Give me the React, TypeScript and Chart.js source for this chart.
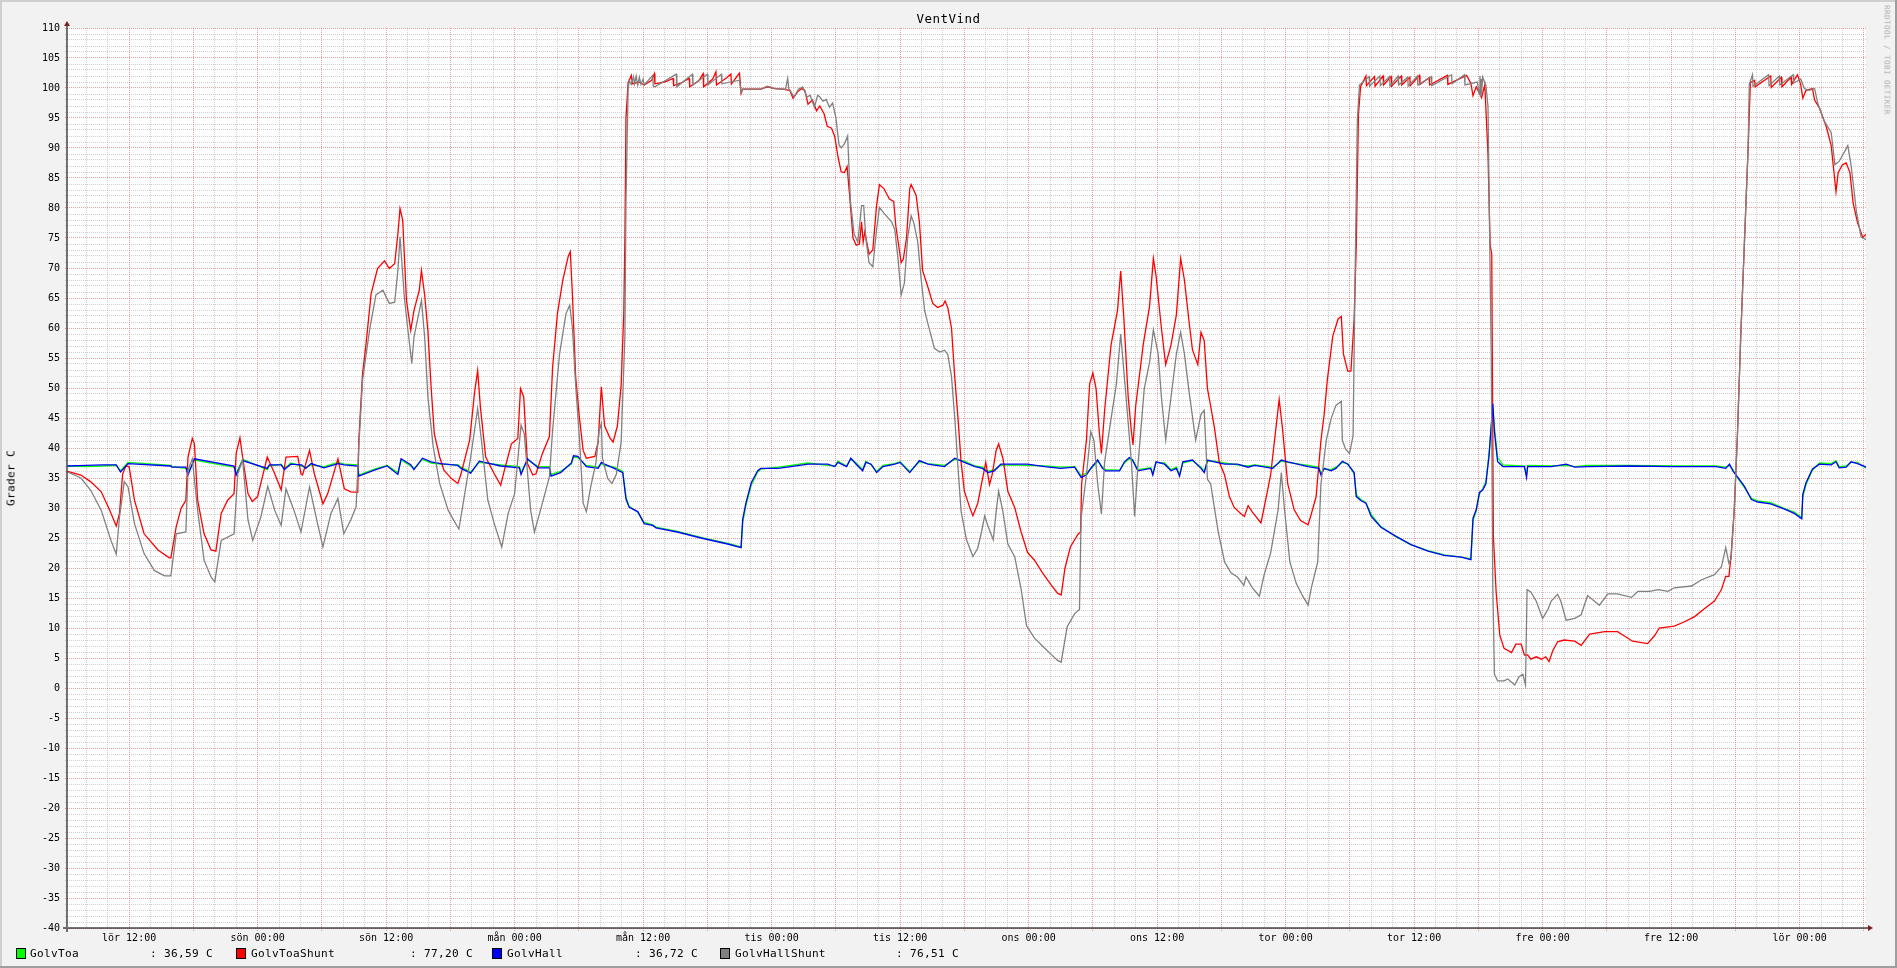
import React, { useEffect, useRef } from 'react';
import { Chart, registerables } from 'chart.js';

Chart.register(...registerables);

const W = 1897;
const H = 968;

// ---------- data (hours since lör ~06:00, degrees C) ----------
const chartTitle = 'VentVind';
const yAxisTitle = 'Grader C';
const watermark = 'RRDTOOL / TOBI OETIKER';

const xLabelHours = [6, 18, 30, 42, 54, 66, 78, 90, 102, 114, 126, 138, 150, 162];
const xLabels = ['lör 12:00', 'sön 00:00', 'sön 12:00', 'mån 00:00', 'mån 12:00', 'tis 00:00', 'tis 12:00', 'ons 00:00', 'ons 12:00', 'tor 00:00', 'tor 12:00', 'fre 00:00', 'fre 12:00', 'lör 00:00'];
const xGridHours = Array.from({ length: 84 }, (_, i) => (i + 1) * 2);
const yGridValues = Array.from({ length: 151 }, (_, i) => -40 + i);

const seriesNames = ['GolvToa', 'GolvToaShunt', 'GolvHall', 'GolvHallShunt'];
const seriesColors = ['#00ff00', '#ff0000', '#0000ff', '#808080'];
const legendValues = [': 36,59 C', ': 77,20 C', ': 36,72 C', ': 76,51 C'];

const golvHall: [number, number][] = [
  [0.25, 37.0], [2.0, 37.1], [3.5, 37.2], [4.8, 37.2], [5.2, 36.0], [5.9, 37.4], [9.9, 37.0], [10.0, 36.8], [11.3, 36.8], [11.5, 35.5],
  [12.1, 38.2], [15.8, 37.0], [16.0, 35.5], [16.6, 37.9], [18.9, 36.6], [19.1, 37.2], [20.2, 37.2], [20.5, 36.4], [21.1, 37.3], [22.1, 37.2],
  [22.5, 36.6], [23.0, 37.4], [24.2, 36.7], [25.5, 37.4], [26.1, 37.2], [27.35, 37.0], [27.45, 35.3], [28.9, 36.3], [30.1, 37.0], [31.1, 35.6],
  [31.4, 38.2], [32.3, 37.2], [32.6, 36.4], [33.4, 38.3], [34.2, 37.7], [35.1, 37.4], [36.7, 37.1], [37.0, 36.6], [37.9, 35.8], [38.7, 37.8],
  [40.7, 37.0], [42.45, 36.7], [42.6, 35.6], [43.2, 38.2], [44.2, 36.7], [45.25, 36.7], [45.4, 35.3], [46.3, 35.9], [47.3, 37.5], [47.5, 38.7],
  [47.9, 38.6], [48.7, 36.9], [49.8, 36.6], [50.1, 37.6], [50.4, 37.3], [51.3, 36.6], [52.1, 35.9], [52.4, 31.5], [52.7, 30.1], [53.5, 29.4],
  [54.1, 27.4], [54.9, 27.1], [55.2, 26.7], [57.2, 26.0], [59.4, 25.0], [61.9, 24.0], [63.15, 23.4], [63.3, 28.1], [63.6, 30.8], [64.1, 34.2],
  [64.7, 36.2], [65.0, 36.6], [66.6, 36.6], [67.8, 36.9], [69.4, 37.3], [71.25, 37.3], [71.9, 36.9], [72.2, 37.6], [73.0, 36.9], [73.4, 38.3],
  [73.9, 37.3], [74.5, 36.2], [74.8, 37.6], [75.3, 37.3], [75.8, 35.9], [76.4, 36.9], [77.5, 37.3], [78.0, 37.6], [78.9, 35.9], [79.8, 37.9],
  [80.6, 37.3], [82.15, 36.9], [83.1, 38.3], [84.0, 37.6], [85.0, 36.9], [85.7, 36.6], [86.2, 35.9], [86.8, 36.2], [87.4, 37.3], [88.4, 37.3],
  [89.9, 37.3], [91.5, 36.9], [93.0, 36.6], [94.3, 36.8], [94.9, 35.1], [95.4, 35.5], [95.8, 36.6], [96.45, 38.0], [96.9, 36.6], [97.2, 36.2],
  [98.5, 36.2], [98.95, 37.7], [99.4, 38.4], [99.7, 38.0], [100.2, 36.2], [101.4, 36.6], [101.6, 35.5], [101.9, 37.7], [102.7, 37.3], [103.3, 36.2],
  [103.8, 36.6], [104.1, 35.3], [104.4, 37.7], [105.3, 38.0], [106.1, 36.6], [106.4, 35.9], [106.7, 38.0], [107.35, 37.7], [108.3, 37.3], [109.5, 37.3],
  [110.5, 36.8], [111.1, 37.1], [112.8, 36.6], [113.6, 38.0], [114.2, 37.7], [116.1, 36.9], [117.1, 36.6], [117.3, 35.5], [117.6, 36.6], [118.25, 36.2],
  [118.7, 36.6], [119.3, 37.8], [119.8, 37.3], [120.4, 35.9], [120.6, 31.9], [121.05, 31.2], [121.5, 30.8], [122.0, 28.6], [122.9, 26.8], [124.2, 25.4],
  [125.7, 23.9], [127.3, 22.8], [128.8, 22.1], [130.4, 21.8], [131.3, 21.4], [131.5, 28.3], [131.8, 29.7], [132.1, 32.6], [132.4, 33.0], [132.7, 34.0],
  [133.0, 38.7], [133.35, 47.4], [133.5, 42.7], [133.8, 37.7], [134.3, 36.9], [136.3, 36.9], [136.5, 35.1], [136.6, 36.9], [138.8, 36.9], [140.2, 37.3],
  [141.0, 36.8], [142.2, 36.9], [146.0, 37.0], [150.3, 36.9], [154.2, 36.9], [155.1, 36.6], [155.45, 37.3], [155.8, 36.1], [156.2, 35.2], [156.85, 33.6],
  [157.5, 31.4], [158.1, 31.0], [159.3, 30.7], [160.6, 29.8], [161.5, 29.1], [162.2, 28.2], [162.3, 32.3], [162.6, 34.2], [163.2, 36.5], [163.85, 37.3],
  [164.95, 37.2], [165.4, 37.7], [165.7, 36.7], [166.35, 36.8], [166.8, 37.7], [167.4, 37.4], [168.25, 36.8],
];

const golvToa: [number, number][] = [
  [0.25, 37.0], [2.0, 36.9], [3.5, 37.0], [4.8, 37.1], [5.2, 36.2], [5.9, 37.6], [9.9, 37.1], [10.0, 36.9], [11.3, 36.6], [11.5, 35.9],
  [12.1, 38.0], [15.8, 36.8], [16.0, 35.8], [16.6, 38.1], [18.9, 36.4], [19.1, 37.0], [20.2, 37.3], [20.5, 36.6], [21.1, 37.5], [22.1, 37.0],
  [22.5, 36.8], [23.0, 37.2], [24.2, 36.9], [25.5, 37.6], [26.1, 37.3], [27.35, 37.2], [27.45, 35.5], [28.9, 36.5], [30.1, 37.1], [31.1, 35.9],
  [31.4, 38.0], [32.3, 37.0], [32.6, 36.6], [33.4, 38.1], [34.2, 37.5], [35.1, 37.3], [36.7, 37.2], [37.0, 36.8], [37.9, 36.0], [38.7, 37.6],
  [40.7, 37.2], [42.45, 36.9], [42.6, 35.9], [43.2, 38.0], [44.2, 36.9], [45.25, 36.9], [45.4, 35.6], [46.3, 36.1], [47.3, 37.3], [47.5, 38.5],
  [47.9, 38.4], [48.7, 37.1], [49.8, 36.8], [50.1, 37.4], [50.4, 37.1], [51.3, 36.8], [52.1, 36.1], [52.4, 31.8], [52.7, 30.3], [53.5, 29.3],
  [54.1, 27.6], [54.9, 27.2], [55.2, 26.8], [57.2, 26.1], [59.4, 25.1], [61.9, 24.1], [63.15, 23.5], [63.3, 27.6], [63.6, 30.4], [64.1, 33.8],
  [64.7, 36.0], [65.0, 36.5], [66.6, 36.8], [67.8, 37.1], [69.4, 37.5], [71.25, 37.1], [71.9, 37.0], [72.2, 37.8], [73.0, 37.0], [73.4, 38.1],
  [73.9, 37.5], [74.5, 36.4], [74.8, 37.8], [75.3, 37.2], [75.8, 36.1], [76.4, 37.1], [77.5, 37.4], [78.0, 37.7], [78.9, 36.1], [79.8, 37.7],
  [80.6, 37.4], [82.15, 37.1], [83.1, 38.1], [84.0, 37.8], [85.0, 37.0], [85.7, 36.8], [86.2, 36.1], [86.8, 36.4], [87.4, 37.1], [88.4, 37.2],
  [89.9, 37.1], [91.5, 37.0], [93.0, 36.8], [94.3, 36.9], [94.9, 35.4], [95.4, 35.8], [95.8, 36.5], [96.45, 37.8], [96.9, 36.8], [97.2, 36.4],
  [98.5, 36.3], [98.95, 37.5], [99.4, 38.2], [99.7, 38.1], [100.2, 36.4], [101.4, 36.7], [101.6, 35.8], [101.9, 37.6], [102.7, 37.5], [103.3, 36.4],
  [103.8, 36.8], [104.1, 35.6], [104.4, 37.5], [105.3, 37.9], [106.1, 36.8], [106.4, 36.1], [106.7, 37.8], [107.35, 37.8], [108.3, 37.5], [109.5, 37.2],
  [110.5, 37.0], [111.1, 37.2], [112.8, 36.8], [113.6, 37.8], [114.2, 37.6], [116.1, 37.1], [117.1, 36.8], [117.3, 35.8], [117.6, 36.5], [118.25, 36.4],
  [118.7, 36.8], [119.3, 37.6], [119.8, 37.4], [120.4, 35.7], [120.6, 32.2], [121.05, 31.4], [121.5, 30.9], [122.0, 28.9], [122.9, 26.9], [124.2, 25.3],
  [125.7, 23.9], [127.3, 22.9], [128.8, 22.2], [130.4, 21.8], [131.3, 21.5], [131.5, 27.9], [131.8, 29.5], [132.1, 32.3], [132.4, 33.2], [132.7, 34.4],
  [133.0, 39.2], [133.35, 46.8], [133.5, 43.5], [133.8, 38.4], [134.3, 37.2], [136.3, 37.0], [136.5, 35.5], [136.6, 37.1], [138.8, 37.0], [140.2, 37.1],
  [141.0, 36.9], [142.2, 37.1], [146.0, 37.1], [150.3, 37.0], [154.2, 37.0], [155.1, 36.8], [155.45, 37.1], [155.8, 36.3], [156.2, 35.0], [156.85, 33.4],
  [157.5, 31.6], [158.1, 31.2], [159.3, 30.9], [160.6, 29.9], [161.5, 29.3], [162.2, 28.4], [162.3, 31.8], [162.6, 33.9], [163.2, 36.3], [163.85, 37.5],
  [164.95, 37.4], [165.4, 37.9], [165.7, 36.9], [166.35, 37.0], [166.8, 37.6], [167.4, 37.6], [168.25, 36.6],
];

const golvToaShunt: [number, number][] = [
  [0.25, 36.1], [1.5, 35.5], [2.4, 34.4], [3.4, 32.7], [4.2, 29.6], [4.8, 27.0], [5.1, 29.1], [5.4, 35.7], [5.7, 37.0], [6.0, 36.9],
  [6.5, 31.3], [7.4, 25.7], [8.7, 23.0], [9.75, 21.7], [9.9, 21.7], [10.4, 26.9], [10.85, 29.9], [11.3, 31.3], [11.5, 38.5], [11.9, 41.6],
  [12.1, 40.7], [12.4, 31.3], [13.0, 25.7], [13.65, 23.0], [14.1, 22.8], [14.6, 29.1], [15.2, 31.3], [15.8, 32.4], [16.0, 39.1], [16.35, 41.7],
  [16.6, 38.5], [17.1, 32.4], [17.5, 31.1], [18.0, 31.9], [18.9, 38.5], [19.6, 35.7], [20.2, 33.0], [20.65, 38.5], [21.75, 38.6], [22.05, 35.7],
  [22.2, 35.5], [22.85, 39.6], [23.3, 35.7], [24.1, 30.7], [24.55, 32.4], [25.5, 38.2], [26.1, 33.2], [26.7, 32.7], [27.35, 32.6], [27.45, 41.3],
  [27.8, 52.4], [28.1, 56.9], [28.6, 65.7], [29.2, 69.9], [29.85, 71.2], [30.3, 69.9], [30.8, 70.7], [31.1, 75.7], [31.3, 79.9], [31.55, 78.0],
  [31.9, 64.6], [32.3, 59.6], [32.6, 62.9], [33.1, 66.3], [33.3, 69.6], [33.6, 65.5], [33.9, 59.6], [34.2, 50.2], [34.5, 42.4], [35.0, 38.5],
  [35.4, 36.3], [36.1, 34.9], [36.7, 34.1], [37.0, 35.7], [37.8, 41.3], [38.25, 49.1], [38.55, 52.9], [38.8, 46.9], [39.3, 38.5], [40.1, 35.7],
  [40.7, 33.8], [41.05, 36.3], [41.7, 40.7], [42.3, 41.6], [42.55, 49.9], [42.85, 48.5], [43.2, 37.4], [43.7, 35.5], [44.0, 35.7], [44.6, 39.1],
  [45.25, 41.9], [45.55, 53.5], [46.0, 62.4], [46.5, 68.0], [47.0, 71.9], [47.2, 72.7], [47.4, 65.5], [47.7, 51.9], [48.05, 45.1], [48.4, 39.6],
  [48.7, 38.3], [49.5, 38.6], [49.8, 41.0], [50.1, 50.2], [50.4, 43.7], [50.9, 41.7], [51.2, 41.0], [51.6, 43.7], [51.95, 50.5], [52.2, 62.8],
  [52.3, 75.0], [52.4, 95.1], [52.6, 100.9], [52.9, 102.1], [53.0, 100.7], [53.6, 101.0], [54.1, 100.5], [54.8, 101.3], [55.05, 102.4], [55.1, 100.7],
  [56.0, 101.0], [56.8, 101.6], [56.85, 100.4], [57.5, 100.8], [58.3, 101.6], [58.35, 100.2], [59.2, 101.2], [59.6, 102.4], [59.65, 100.2], [60.5, 101.5],
  [60.8, 102.7], [60.85, 100.5], [61.8, 101.7], [62.2, 102.3], [62.25, 100.7], [63.0, 102.5], [63.15, 99.1], [63.3, 99.8], [65.0, 99.8], [65.6, 100.2],
  [66.3, 99.9], [67.0, 99.8], [67.7, 99.6], [68.0, 98.3], [68.45, 99.4], [68.8, 99.9], [69.1, 99.6], [69.4, 97.3], [69.8, 98.0], [70.2, 96.2],
  [70.5, 97.0], [70.9, 95.7], [71.2, 93.6], [71.6, 93.3], [71.9, 91.9], [72.2, 88.5], [72.5, 86.0], [72.8, 85.9], [73.05, 86.9], [73.3, 81.8],
  [73.6, 75.0], [73.9, 73.8], [74.2, 74.0], [74.4, 77.7], [74.55, 74.3], [74.7, 76.0], [75.1, 72.3], [75.45, 73.0], [75.8, 80.4], [76.07, 83.9],
  [76.5, 83.2], [77.0, 81.5], [77.4, 81.1], [77.6, 77.0], [78.1, 70.9], [78.3, 71.5], [78.6, 75.0], [78.9, 83.2], [79.03, 83.9], [79.5, 82.1],
  [79.8, 77.7], [80.1, 69.6], [80.6, 66.8], [81.05, 64.1], [81.5, 63.4], [82.0, 63.8], [82.2, 64.5], [82.45, 63.4], [82.8, 60.0], [83.1, 51.9],
  [83.4, 45.1], [83.7, 37.6], [84.0, 32.8], [84.5, 30.1], [84.8, 28.7], [85.25, 30.8], [85.7, 34.9], [86.0, 37.6], [86.35, 33.9], [86.6, 35.6],
  [86.97, 39.6], [87.2, 40.7], [87.6, 38.3], [88.06, 32.8], [88.7, 30.1], [89.3, 26.0], [89.9, 22.6], [90.55, 21.3], [91.3, 19.2], [92.1, 17.2],
  [92.7, 15.8], [93.04, 15.5], [93.4, 20.0], [93.9, 23.5], [94.6, 25.6], [94.85, 26.0], [94.95, 34.0], [95.4, 41.3], [95.7, 50.7], [96.0, 52.5],
  [96.3, 49.9], [96.6, 42.7], [96.8, 39.1], [97.1, 46.3], [97.7, 57.2], [98.3, 62.9], [98.6, 69.5], [98.9, 61.5], [99.3, 48.5], [99.6, 42.7],
  [99.75, 40.5], [100.0, 47.0], [100.7, 57.2], [101.3, 63.7], [101.65, 71.6], [101.9, 68.7], [102.4, 60.0], [102.8, 53.9], [103.3, 57.2], [103.8, 62.2],
  [104.2, 71.6], [104.55, 68.0], [105.0, 60.8], [105.3, 56.4], [105.8, 53.9], [106.1, 59.3], [106.4, 57.9], [106.7, 49.9], [107.0, 47.0], [107.35, 43.4],
  [107.8, 37.7], [108.3, 35.5], [108.75, 31.9], [109.2, 30.1], [109.85, 29.0], [110.15, 28.6], [110.5, 30.4], [110.9, 29.3], [111.7, 27.5], [112.2, 31.9],
  [112.6, 35.5], [113.1, 43.4], [113.4, 48.1], [113.7, 43.4], [114.2, 34.0], [114.8, 29.7], [115.4, 27.9], [116.1, 27.2], [116.4, 29.0], [116.85, 31.9],
  [117.3, 41.3], [117.6, 45.6], [117.9, 51.4], [118.4, 58.6], [118.9, 61.5], [119.2, 61.9], [119.4, 55.7], [119.8, 52.8], [120.1, 52.8], [120.4, 61.5],
  [120.6, 73.8], [120.8, 95.5], [121.0, 100.2], [121.5, 102.0], [121.55, 100.4], [122.3, 101.9], [122.35, 100.3], [123.1, 102.0], [123.15, 100.5], [123.85, 101.9],
  [123.9, 100.3], [124.8, 102.0], [124.85, 100.5], [125.6, 101.8], [125.65, 100.4], [126.5, 102.1], [126.55, 100.6], [127.4, 101.7], [127.45, 100.5], [129.1, 102.1],
  [129.15, 100.6], [130.9, 102.1], [131.3, 100.8], [131.5, 98.7], [131.8, 100.2], [132.3, 98.4], [132.6, 100.5], [132.9, 89.0], [133.1, 73.8], [133.25, 72.3],
  [133.35, 41.3], [133.4, 25.4], [133.66, 16.0], [134.0, 8.8], [134.4, 6.6], [135.1, 5.9], [135.5, 7.3], [136.0, 7.3], [136.3, 5.5], [136.6, 5.5],
  [136.9, 4.8], [137.4, 5.2], [137.9, 4.8], [138.3, 5.2], [138.6, 4.4], [138.95, 6.2], [139.4, 7.7], [140.0, 8.0], [141.0, 7.8], [141.6, 7.1],
  [142.4, 9.0], [143.8, 9.4], [145.0, 9.4], [145.6, 8.7], [146.4, 7.8], [147.8, 7.4], [148.45, 8.7], [148.9, 10.0], [150.3, 10.3], [151.2, 11.0],
  [152.2, 11.9], [153.1, 13.2], [154.05, 14.5], [154.7, 16.4], [155.1, 18.6], [155.4, 18.6], [155.6, 22.1], [155.9, 29.8], [156.2, 42.5], [156.5, 58.5],
  [156.85, 74.4], [157.2, 90.4], [157.4, 100.9], [157.8, 101.3], [157.85, 100.2], [159.3, 102.0], [159.35, 100.1], [160.3, 101.8], [160.35, 100.2], [161.2, 101.8],
  [161.25, 100.6], [161.8, 102.2], [162.1, 100.6], [162.3, 98.3], [162.6, 99.6], [163.2, 99.9], [163.4, 98.0], [163.85, 96.7], [164.5, 93.5], [164.95, 90.4],
  [165.4, 82.7], [165.6, 85.9], [166.0, 87.2], [166.35, 87.5], [166.7, 85.9], [167.0, 80.8], [167.4, 77.6], [167.9, 75.1], [168.25, 75.7],
];

const golvHallShunt: [number, number][] = [
  [0.25, 36.0], [1.5, 35.0], [2.4, 33.0], [3.4, 29.6], [4.3, 24.6], [4.8, 22.3], [5.1, 28.5], [5.55, 34.4], [5.9, 33.5], [6.5, 27.4],
  [7.4, 22.4], [8.35, 19.6], [9.3, 18.7], [9.9, 18.7], [10.4, 25.7], [11.3, 26.0], [11.5, 36.3], [11.9, 38.2], [12.4, 29.6], [13.0, 21.3],
  [13.65, 18.5], [14.0, 17.7], [14.6, 24.6], [15.8, 25.7], [16.15, 35.7], [16.6, 38.1], [17.1, 28.0], [17.55, 24.6], [18.3, 28.5], [18.95, 33.6],
  [19.6, 29.6], [20.2, 27.1], [20.65, 33.2], [21.4, 29.6], [22.05, 26.0], [22.85, 33.5], [23.6, 27.4], [24.1, 23.5], [24.85, 29.1], [25.5, 31.6],
  [26.05, 25.7], [26.7, 28.0], [27.2, 30.2], [27.45, 40.2], [27.8, 51.3], [28.45, 59.6], [29.05, 65.5], [29.7, 66.3], [30.3, 64.1], [30.8, 64.3],
  [31.1, 69.6], [31.3, 75.2], [31.7, 65.2], [32.0, 60.2], [32.4, 54.1], [32.6, 58.5], [33.3, 64.6], [33.6, 58.5], [33.9, 48.5], [34.4, 40.2],
  [35.0, 34.1], [35.8, 29.6], [36.4, 27.7], [36.8, 26.5], [37.3, 31.9], [37.9, 38.5], [38.55, 46.6], [38.9, 41.3], [39.5, 31.3], [40.1, 27.4],
  [40.8, 23.5], [41.4, 29.1], [42.0, 32.4], [42.6, 43.8], [42.9, 42.4], [43.5, 29.6], [43.85, 26.0], [44.5, 30.2], [45.25, 35.2], [45.55, 43.0],
  [46.2, 55.7], [46.8, 62.4], [47.15, 63.8], [47.4, 60.0], [47.7, 50.5], [48.05, 41.7], [48.4, 30.8], [48.7, 29.4], [49.1, 33.5], [49.6, 37.6],
  [49.9, 43.0], [50.1, 44.1], [50.2, 38.3], [50.7, 34.9], [51.1, 34.1], [51.5, 35.6], [51.95, 41.0], [52.3, 58.7], [52.4, 81.1], [52.6, 99.8],
  [52.7, 101.2], [52.9, 100.6], [53.1, 101.9], [53.2, 100.7], [53.35, 102.0], [53.5, 100.5], [53.65, 101.8], [53.8, 100.6], [54.0, 101.5], [54.1, 100.5],
  [54.9, 102.1], [54.95, 100.3], [55.1, 100.2], [57.1, 102.3], [57.15, 100.2], [58.6, 102.3], [58.65, 100.5], [60.0, 102.3], [60.05, 100.5], [61.3, 102.3],
  [61.35, 100.7], [63.0, 101.3], [63.15, 99.3], [63.3, 99.8], [65.0, 99.8], [65.6, 100.3], [66.3, 99.9], [67.3, 99.8], [67.5, 101.6], [67.6, 99.9],
  [68.1, 98.5], [68.5, 99.8], [68.9, 100.2], [69.3, 98.5], [69.6, 98.8], [70.0, 96.8], [70.3, 98.8], [70.5, 98.5], [70.8, 97.8], [71.1, 98.1],
  [71.4, 96.8], [71.7, 97.5], [72.0, 95.1], [72.3, 90.5], [72.5, 90.0], [72.8, 90.7], [73.1, 92.0], [73.36, 81.1], [73.7, 75.7], [74.05, 74.3],
  [74.4, 80.4], [74.6, 80.4], [74.8, 75.0], [75.1, 70.9], [75.45, 70.2], [75.8, 76.4], [76.07, 80.1], [76.5, 79.1], [77.2, 77.7], [77.5, 76.4],
  [77.8, 71.6], [78.1, 65.5], [78.4, 67.5], [78.7, 75.0], [79.03, 78.7], [79.3, 77.4], [79.65, 74.3], [79.96, 68.2], [80.3, 62.8], [80.6, 60.7],
  [80.9, 58.7], [81.2, 56.6], [81.7, 56.0], [82.15, 56.3], [82.45, 55.6], [82.8, 51.9], [83.1, 45.1], [83.4, 36.9], [83.7, 29.4], [84.2, 24.7],
  [84.8, 21.9], [85.25, 23.3], [85.6, 26.0], [85.9, 28.7], [86.2, 27.0], [86.7, 24.7], [86.97, 29.4], [87.2, 32.8], [87.6, 29.4], [88.06, 24.0],
  [88.7, 21.9], [89.3, 16.5], [89.8, 10.4], [90.55, 8.3], [91.3, 7.0], [92.1, 5.6], [92.7, 4.6], [93.04, 4.3], [93.6, 10.2], [94.3, 12.4],
  [94.75, 13.1], [94.9, 28.3], [95.4, 35.5], [95.8, 42.7], [96.1, 41.3], [96.45, 34.0], [96.8, 29.0], [97.1, 37.7], [97.7, 44.9], [98.2, 50.7],
  [98.6, 59.0], [99.1, 48.5], [99.6, 37.7], [99.9, 28.6], [100.2, 36.9], [100.8, 49.9], [101.3, 54.3], [101.65, 59.7], [102.1, 55.7], [102.4, 48.5],
  [102.8, 41.3], [103.3, 48.5], [103.8, 55.7], [104.2, 59.3], [104.55, 55.7], [105.0, 49.2], [105.6, 41.3], [106.1, 45.6], [106.4, 46.3], [106.7, 34.8],
  [107.0, 34.0], [107.7, 26.1], [108.3, 21.0], [108.9, 19.2], [109.5, 18.5], [110.1, 17.1], [110.3, 18.5], [110.9, 16.7], [111.55, 15.3], [112.0, 18.9],
  [112.6, 22.5], [113.3, 29.7], [113.6, 35.9], [113.9, 29.7], [114.4, 21.0], [115.0, 17.4], [115.6, 15.3], [116.1, 13.8], [116.4, 16.7], [117.0, 21.0],
  [117.3, 34.0], [117.8, 41.3], [118.25, 44.9], [118.7, 47.1], [119.2, 47.8], [119.3, 41.3], [119.6, 39.8], [119.96, 39.1], [120.3, 42.0], [120.5, 70.2],
  [120.7, 94.7], [120.9, 100.5], [121.8, 101.9], [121.85, 100.3], [122.8, 102.0], [122.85, 100.4], [123.7, 101.9], [123.75, 100.3], [124.5, 102.0], [124.55, 100.5],
  [125.4, 101.8], [125.45, 100.3], [126.3, 102.0], [126.35, 100.5], [127.6, 101.9], [127.65, 100.4], [129.5, 102.2], [129.55, 100.7], [130.7, 102.2], [130.75, 100.5],
  [131.9, 101.0], [132.1, 99.0], [132.15, 102.0], [132.2, 98.5], [132.25, 101.5], [132.3, 99.0], [132.4, 101.8], [132.7, 100.5], [132.9, 96.9], [133.0, 82.5],
  [133.2, 55.7], [133.35, 16.7], [133.5, 2.3], [133.8, 1.2], [134.4, 1.2], [134.75, 1.5], [135.4, 0.5], [135.8, 1.9], [136.15, 2.3], [136.4, 0.5],
  [136.55, 16.4], [136.9, 16.0], [137.4, 14.5], [138.0, 11.6], [138.5, 13.1], [138.8, 14.5], [139.4, 15.6], [139.7, 14.5], [140.2, 11.3], [141.0, 11.6],
  [141.6, 12.2], [142.2, 15.4], [143.3, 13.8], [144.1, 15.7], [145.0, 15.7], [146.3, 15.1], [146.9, 16.1], [148.0, 16.1], [148.8, 16.4], [149.7, 16.1],
  [150.3, 16.7], [151.9, 17.0], [152.8, 18.0], [154.05, 18.9], [154.7, 20.2], [155.1, 23.4], [155.4, 20.8], [155.6, 21.5], [155.9, 29.8], [156.2, 42.5],
  [156.5, 58.5], [156.85, 74.4], [157.2, 90.4], [157.3, 100.6], [157.6, 102.2], [157.65, 100.3], [159.1, 102.2], [159.15, 100.4], [160.1, 102.0], [160.15, 100.5],
  [161.4, 102.2], [161.45, 100.8], [162.1, 101.5], [162.45, 99.9], [162.9, 99.6], [163.4, 99.9], [163.7, 97.4], [164.3, 94.5], [164.95, 92.6], [165.3, 87.2],
  [165.7, 87.8], [166.2, 89.4], [166.5, 90.4], [166.8, 87.2], [167.3, 79.5], [167.75, 75.1], [168.25, 74.7],
];

const seriesData = [golvToa, golvToaShunt, golvHall, golvHallShunt];

// ---------- styling ----------
const MONO = '"DejaVu Sans Mono", monospace';
const MINOR_GRID = 'rgba(143,143,143,0.42)';
const MAJOR_GRID = 'rgba(222,79,79,0.55)';
const PLOT = { left: 67, right: 1866, top: 28, bottom: 928 };

const framePlugin = {
  id: 'rrdFrame',
  beforeDraw(chart: any) {
    const { ctx, chartArea: a } = chart;
    ctx.save();
    ctx.fillStyle = '#f2f2f2';
    ctx.fillRect(0, 0, W, H);
    ctx.fillStyle = '#cfcfcf';
    ctx.fillRect(0, 0, W, 2);
    ctx.fillRect(0, 0, 2, H);
    ctx.fillStyle = '#9e9e9e';
    ctx.fillRect(0, H - 2, W, 2);
    ctx.fillRect(W - 2, 0, 2, H);
    ctx.fillStyle = '#ffffff';
    ctx.fillRect(a.left, a.top, a.right - a.left, a.bottom - a.top);
    ctx.restore();
  },
  afterDraw(chart: any) {
    const { ctx, chartArea: a } = chart;
    ctx.save();
    ctx.strokeStyle = 'rgba(31,31,31,0.62)';
    ctx.lineWidth = 2;
    ctx.beginPath();
    ctx.moveTo(a.left, a.bottom + 4);
    ctx.lineTo(a.left, a.top - 4);
    ctx.moveTo(a.left - 4, a.bottom);
    ctx.lineTo(a.right + 4, a.bottom);
    ctx.stroke();
    ctx.fillStyle = '#801f1f';
    ctx.beginPath();
    ctx.moveTo(a.right + 2, a.bottom - 3);
    ctx.lineTo(a.right + 2, a.bottom + 3);
    ctx.lineTo(a.right + 7, a.bottom);
    ctx.closePath();
    ctx.fill();
    ctx.beginPath();
    ctx.moveTo(a.left - 3, a.top - 2);
    ctx.lineTo(a.left + 3, a.top - 2);
    ctx.lineTo(a.left, a.top - 7);
    ctx.closePath();
    ctx.fill();
    ctx.restore();
  },
};

const legendLayout = [
  { box: 16, name: 30, value: 150 },
  { box: 236, name: 251, value: 410 },
  { box: 492, name: 507, value: 635 },
  { box: 720, name: 735, value: 896 },
];

export default function App() {
  const canvasRef = useRef<HTMLCanvasElement | null>(null);

  useEffect(() => {
    document.body.style.margin = '0';
    document.body.style.overflow = 'hidden';
    const canvas = canvasRef.current;
    if (!canvas) return;
    const orders = [4, 3, 2, 1];
    const chart = new Chart(canvas, {
      type: 'line',
      data: {
        datasets: seriesNames.map((name, i) => ({
          label: name,
          data: seriesData[i].map(([x, y]) => ({ x, y })),
          borderColor: seriesColors[i],
          backgroundColor: seriesColors[i],
          borderWidth: 1.3,
          pointRadius: 0,
          tension: 0,
          fill: false,
          order: orders[i],
        })),
      },
      options: {
        animation: false,
        responsive: false,
        maintainAspectRatio: false,
        events: [],
        layout: { padding: { left: 0, right: W - PLOT.right, top: PLOT.top, bottom: 0 } },
        plugins: {
          legend: { display: false },
          title: { display: false },
          tooltip: { enabled: false },
        },
        scales: {
          x: {
            type: 'linear',
            min: 0.2,
            max: 168.2,
            afterBuildTicks: (scale: any) => {
              scale.ticks = xGridHours.map((v) => ({ value: v }));
            },
            afterFit: (scale: any) => {
              scale.height = H - PLOT.bottom;
            },
            ticks: {
              autoSkip: false,
              maxRotation: 0,
              minRotation: 0,
              padding: 1,
              color: '#000000',
              font: { family: MONO, size: 10 },
              callback: (v: any) => {
                const idx = xLabelHours.indexOf(Number(v));
                return idx >= 0 ? xLabels[idx] : '';
              },
            },
            grid: {
              color: (c: any) => (c.tick && c.tick.value % 6 === 0 ? MAJOR_GRID : MINOR_GRID),
              lineWidth: 1,
              drawTicks: true,
              tickLength: 3,
              tickColor: (c: any) => (c.tick && c.tick.value % 6 === 0 ? MAJOR_GRID : 'rgba(0,0,0,0)'),
              tickBorderDash: [1, 1],
            },
            border: { display: false, dash: [1, 1] },
          },
          y: {
            type: 'linear',
            min: -40,
            max: 110,
            afterBuildTicks: (scale: any) => {
              scale.ticks = yGridValues.map((v) => ({ value: v }));
            },
            afterFit: (scale: any) => {
              scale.width = PLOT.left;
            },
            ticks: {
              autoSkip: false,
              padding: 5,
              color: '#000000',
              font: { family: MONO, size: 10 },
              callback: (v: any) => (Number(v) % 5 === 0 ? String(v) : ''),
            },
            grid: {
              color: (c: any) => (c.tick && c.tick.value % 5 === 0 ? MAJOR_GRID : MINOR_GRID),
              lineWidth: 1,
              drawTicks: true,
              tickLength: 2,
              tickColor: (c: any) => (c.tick && c.tick.value % 5 === 0 ? MAJOR_GRID : MINOR_GRID),
              tickBorderDash: [1, 1],
            },
            border: { display: false, dash: [1, 1] },
          },
        },
      },
      plugins: [framePlugin],
    } as any);
    return () => chart.destroy();
  }, []);

  const legendFont: React.CSSProperties = {
    position: 'absolute',
    fontFamily: MONO,
    fontSize: '11.1px',
    letterSpacing: '0.31px',
    lineHeight: '13px',
    color: '#000',
    whiteSpace: 'pre',
  };

  return (
    <div style={{ position: 'relative', width: W, height: H, overflow: 'hidden' }}>
      <canvas ref={canvasRef} width={W} height={H} style={{ position: 'absolute', left: 0, top: 0, width: W, height: H }} />
      <div
        style={{
          position: 'absolute', left: 0, top: 11, width: W, textAlign: 'center',
          fontFamily: MONO, fontSize: '12.5px', letterSpacing: '0.47px', lineHeight: '15px', color: '#000', whiteSpace: 'pre',
        }}
      >
        {chartTitle}
      </div>
      <div
        style={{
          position: 'absolute', left: 11, top: (PLOT.top + PLOT.bottom) / 2, transform: 'translate(-50%, -50%) rotate(-90deg)',
          fontFamily: MONO, fontSize: '11.1px', letterSpacing: '0.31px', lineHeight: '13px', color: '#000', whiteSpace: 'pre',
        }}
      >
        {yAxisTitle}
      </div>
      <div
        style={{
          position: 'absolute', left: 1886.5, top: 60, transform: 'translate(-50%, -50%) rotate(90deg)',
          fontFamily: MONO, fontSize: '7.6px', letterSpacing: '0.42px', lineHeight: '9px', color: '#ababab', whiteSpace: 'pre',
        }}
      >
        {watermark}
      </div>
      {seriesNames.map((name, i) => (
        <React.Fragment key={name}>
          <div
            style={{
              position: 'absolute', left: legendLayout[i].box, top: 948, width: 8, height: 9,
              background: seriesColors[i], border: '1px solid #000',
            }}
          />
          <div style={{ ...legendFont, left: legendLayout[i].name, top: 946.5 }}>{name}</div>
          <div style={{ ...legendFont, left: legendLayout[i].value, top: 946.5 }}>{legendValues[i]}</div>
        </React.Fragment>
      ))}
    </div>
  );
}
